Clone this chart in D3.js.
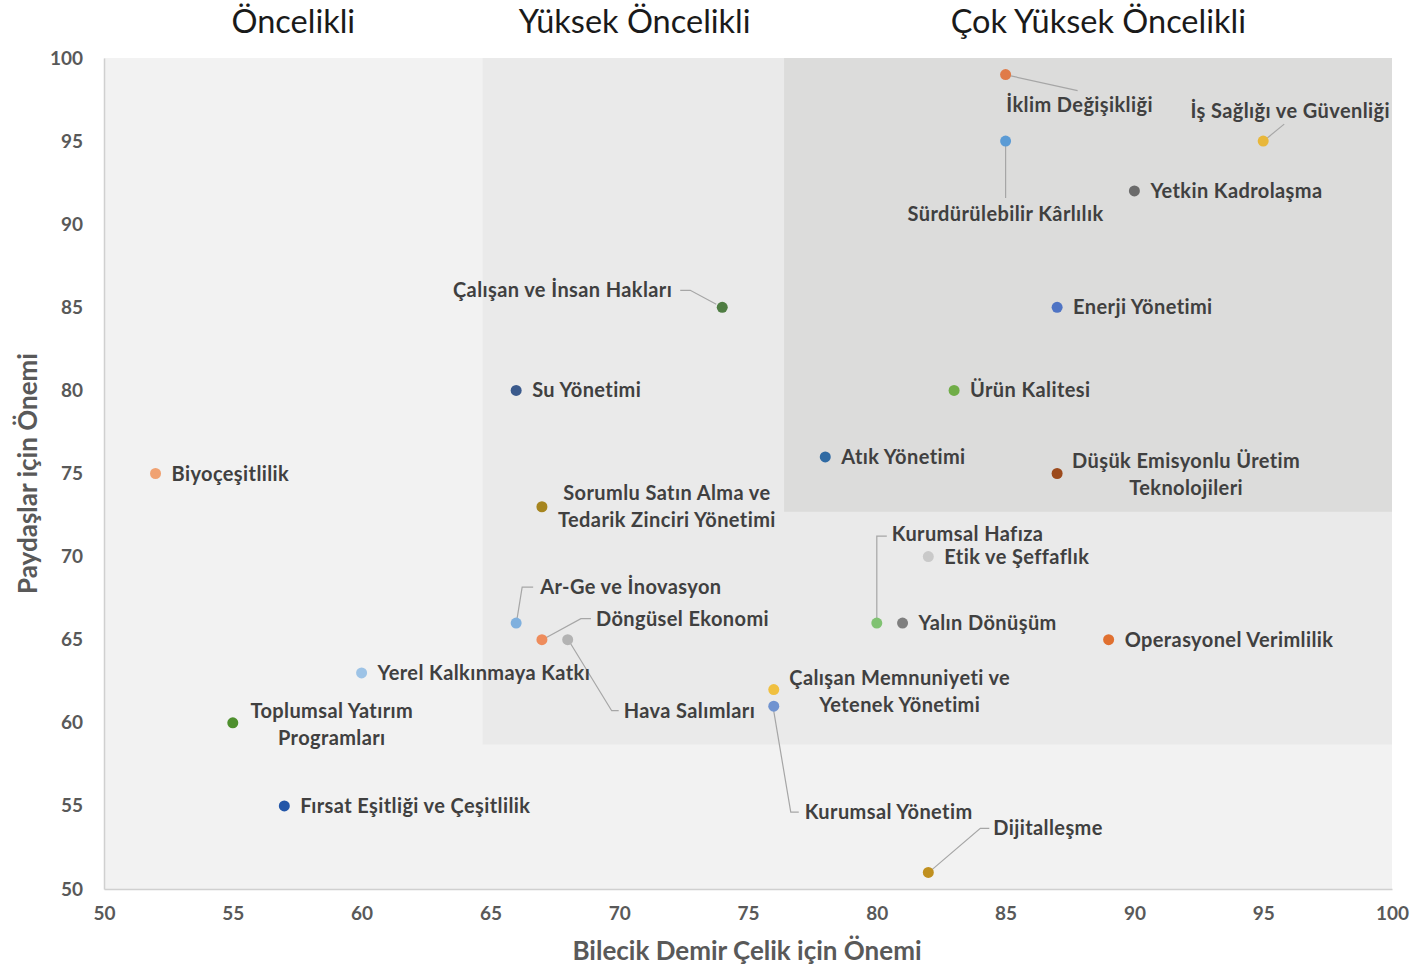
<!DOCTYPE html>
<html>
<head>
<meta charset="utf-8">
<script src="https://cdn.jsdelivr.net/npm/d3@7"></script>
<style>
  body { margin: 0; background: #fff; }
  svg text { font-family: Lato, "Open Sans", sans-serif; }
</style>
</head>
<body>
<div id="chart"></div>
<script>
// data
var names = ["İklim Değişikliği", "İş Sağlığı ve Güvenliği", "Sürdürülebilir Kârlılık", "Yetkin Kadrolaşma",
  "Enerji Yönetimi", "Ürün Kalitesi", "Atık Yönetimi", "Düşük Emisyonlu Üretim Teknolojileri",
  "Çalışan ve İnsan Hakları", "Su Yönetimi", "Sorumlu Satın Alma ve Tedarik Zinciri Yönetimi", "Biyoçeşitlilik",
  "Kurumsal Hafıza", "Etik ve Şeffaflık", "Yalın Dönüşüm", "Operasyonel Verimlilik",
  "Ar-Ge ve İnovasyon", "Döngüsel Ekonomi", "Hava Salımları", "Yerel Kalkınmaya Katkı",
  "Toplumsal Yatırım Programları", "Fırsat Eşitliği ve Çeşitlilik", "Çalışan Memnuniyeti ve Yetenek Yönetimi",
  "Kurumsal Yönetim", "Dijitalleşme"];
var companyScore = [85, 95, 85, 90, 87, 83, 78, 87, 74, 66, 67, 52, 80, 82, 81, 89, 66, 67, 68, 60, 55, 57, 76, 76, 82];
var stakeholderScore = [99, 95, 95, 92, 85, 80, 76, 75, 85, 80, 73, 75, 66, 70, 66, 65, 66, 65, 65, 63, 60, 55, 62, 61, 51];
var pointColors = ["#e07b48", "#e8b73a", "#5b9bd5", "#6b6b6b", "#4f74c4", "#70ad47", "#2f6aa3", "#9c4a1c",
  "#4f7d43", "#3b5a8c", "#a6851f", "#f0a272", "#80c272", "#c9c9c9", "#7f7f7f", "#e07030",
  "#7fb0de", "#ee8c5c", "#b3b3b3", "#9dc3e6", "#4e8f2e", "#2356a8", "#f0c040", "#7093d0", "#c0901f"];

var xTicks = [50, 55, 60, 65, 70, 75, 80, 85, 90, 95, 100];
var yTicks = [50, 55, 60, 65, 70, 75, 80, 85, 90, 95, 100];

// priority zones (data units)
var zoneNames = ["Öncelikli", "Yüksek Öncelikli", "Çok Yüksek Öncelikli"];
var zoneX0 = [50, 64.7, 76.4];
var zoneY0 = [50, 58.7, 72.7];
var zoneTitleX = [57.35, 70.6, 88.6];

// label layout: offsets from point (px)
var labelLayout = {
  "İklim Değişikliği": { dx: 74, dy: 30, anchor: "middle", leader: [[4, 1], [72, 16]] },
  "İş Sağlığı ve Güvenliği": { dx: 27, dy: -30, anchor: "middle", leader: [[4, -3], [21, -17]] },
  "Sürdürülebilir Kârlılık": { dx: 0, dy: 73, anchor: "middle", leader: [[0, 5], [0, 57]] },
  "Düşük Emisyonlu Üretim Teknolojileri": { dx: 129, dy: -13, anchor: "middle", lines: ["Düşük Emisyonlu Üretim", "Teknolojileri"] },
  "Çalışan ve İnsan Hakları": { dx: -50, dy: -17, anchor: "end", leader: [[-42, -17], [-32, -17], [-6, -3]] },
  "Sorumlu Satın Alma ve Tedarik Zinciri Yönetimi": { dx: 125, dy: -14, anchor: "middle", lines: ["Sorumlu Satın Alma ve", "Tedarik Zinciri Yönetimi"] },
  "Kurumsal Hafıza": { dx: 15, dy: -89, anchor: "start", leader: [[0, -5], [0, -87], [10, -87]] },
  "Ar-Ge ve İnovasyon": { dx: 24, dy: -36, anchor: "start", leader: [[1, -5], [6, -36], [17, -36]] },
  "Döngüsel Ekonomi": { dx: 54, dy: -21, anchor: "start", leader: [[4, -2], [39, -21], [49, -21]] },
  "Hava Salımları": { dx: 56, dy: 71, anchor: "start", leader: [[3, 4], [44, 71], [51, 71]] },
  "Toplumsal Yatırım Programları": { dx: 99, dy: -12, anchor: "middle", lines: ["Toplumsal Yatırım", "Programları"] },
  "Çalışan Memnuniyeti ve Yetenek Yönetimi": { dx: 126, dy: -12, anchor: "middle", lines: ["Çalışan Memnuniyeti ve", "Yetenek Yönetimi"] },
  "Kurumsal Yönetim": { dx: 31, dy: 106, anchor: "start", leader: [[0, 5], [17, 106], [25, 106]] },
  "Dijitalleşme": { dx: 65, dy: -44, anchor: "start", leader: [[4, -3], [52, -44], [61, -44]] }
};

var svgWidth = 1413;
var svgHeight = 967;
var margin = { top: 58, right: 21, bottom: 78, left: 104 };
var width = svgWidth - margin.left - margin.right;
var height = svgHeight - margin.top - margin.bottom;

var svg = d3.select("#chart").append("svg")
  .attr("width", svgWidth)
  .attr("height", svgHeight);

var chartGroup = svg.append("g")
  .attr("transform", `translate(${margin.left}, ${margin.top})`);

var x = d3.scaleLinear().domain([50, 100]).range([0, width]);
var y = d3.scaleLinear().domain([50, 100]).range([height, 0]);

// zone backgrounds
var zoneFill = ["#f2f2f2", "#eaeaea", "#dcdcdb"];
chartGroup.selectAll("rect.zone")
  .data(zoneX0)
  .enter()
  .append("rect")
  .attr("class", "zone")
  .attr("x", d => x(d))
  .attr("y", 0)
  .attr("width", d => x(100) - x(d))
  .attr("height", (d, i) => y(zoneY0[i]))
  .attr("fill", (d, i) => zoneFill[i]);

// zone titles
svg.selectAll("text.zoneTitle")
  .data(zoneNames)
  .enter()
  .append("text")
  .attr("class", "zoneTitle")
  .attr("x", (d, i) => margin.left + x(zoneTitleX[i]))
  .attr("y", 33)
  .attr("text-anchor", "middle")
  .attr("font-size", "32.5px")
  .attr("fill", "#1a1a1a")
  .text(d => d);

// axes
var bottomAxis = d3.axisBottom(x).tickValues(xTicks).tickSize(0).tickPadding(18);
var leftAxis = d3.axisLeft(y).tickValues(yTicks).tickSize(0).tickPadding(21);

var gx = chartGroup.append("g")
  .attr("transform", `translate(0, ${height})`)
  .call(bottomAxis);
var gy = chartGroup.append("g").call(leftAxis);

[gx, gy].forEach(function (g) {
  g.select(".domain").attr("stroke", "#d0d0d0").attr("stroke-width", 1.5);
  g.selectAll(".tick text")
    .attr("font-family", "Lato, sans-serif")
    .attr("font-size", "19px")
    .attr("font-weight", 700)
    .attr("fill", "#595959");
});
gx.selectAll(".tick text").attr("dy", "0.71em");

// axis titles
chartGroup.append("text")
  .attr("transform", "rotate(-90)")
  .attr("x", -y(75))
  .attr("y", -margin.left + 37)
  .attr("text-anchor", "middle")
  .attr("font-size", "26px")
  .attr("font-weight", 700)
  .attr("fill", "#595959")
  .text("Paydaşlar için Önemi");

chartGroup.append("text")
  .attr("x", x(75) - 1)
  .attr("y", height + 71)
  .attr("text-anchor", "middle")
  .attr("font-size", "26px")
  .attr("font-weight", 700)
  .attr("fill", "#595959")
  .text("Bilecik Demir Çelik için Önemi");

// points + labels
var points = names.map(function (n, i) {
  return { name: n, bx: companyScore[i], py: stakeholderScore[i], color: pointColors[i] };
});

var line = d3.line();

points.forEach(function (d) {
  var px = x(d.bx), py = y(d.py);
  var lay = labelLayout[d.name] || { dx: 16, dy: 0, anchor: "start" };
  if (lay.leader) {
    chartGroup.append("path")
      .attr("d", line(lay.leader.map(p => [px + p[0], py + p[1]])))
      .attr("fill", "none")
      .attr("stroke", "#a6a6a6")
      .attr("stroke-width", 1.2);
  }
});

chartGroup.selectAll("circle")
  .data(points)
  .enter()
  .append("circle")
  .attr("cx", d => x(d.bx))
  .attr("cy", d => y(d.py))
  .attr("r", 5.5)
  .attr("fill", d => d.color);

points.forEach(function (d) {
  var px = x(d.bx), py = y(d.py);
  var lay = labelLayout[d.name] || { dx: 16, dy: 0, anchor: "start" };
  var lines = lay.lines || [d.name];
  var t = chartGroup.append("text")
    .attr("x", px + lay.dx)
    .attr("y", py + lay.dy)
    .attr("text-anchor", lay.anchor)
    .attr("font-size", "20px")
    .attr("font-weight", 700)
    .attr("letter-spacing", "0.4px")
    .attr("fill", "#404040");
  lines.forEach(function (s, k) {
    t.append("tspan")
      .attr("x", px + lay.dx)
      .attr("dy", k === 0 ? "0.35em" : "1.35em")
      .text(s);
  });
});
</script>
</body>
</html>
